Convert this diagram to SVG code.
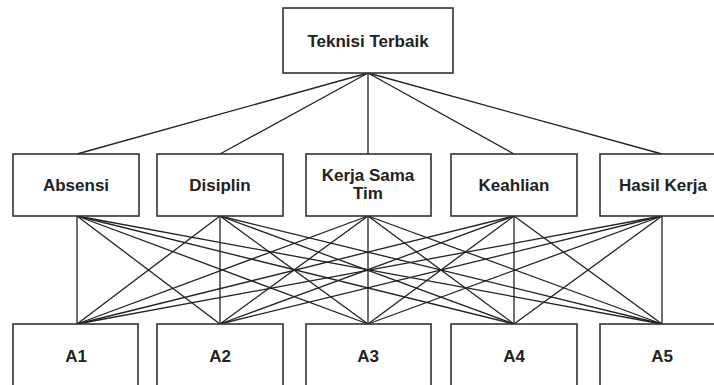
<svg xmlns="http://www.w3.org/2000/svg" width="714" height="385" viewBox="0 0 714 385">
<style>
.box{fill:#fff;stroke:#333;stroke-width:1.6}
.t{font-family:"Liberation Sans",Arial,sans-serif;font-weight:bold;font-size:17px;fill:#222;text-anchor:middle}
.c line{stroke:#222;stroke-width:1.3}
</style>
<rect width="714" height="385" fill="#fff"/>
<g class="c" id="connectors">
<line x1="368" y1="73" x2="77" y2="154"/>
<line x1="368" y1="73" x2="220" y2="154"/>
<line x1="368" y1="73" x2="368" y2="154"/>
<line x1="368" y1="73" x2="514" y2="154"/>
<line x1="368" y1="73" x2="662" y2="154"/>
<line x1="77" y1="216" x2="77" y2="324"/><line x1="77" y1="216" x2="220" y2="324"/><line x1="77" y1="216" x2="368" y2="324"/><line x1="77" y1="216" x2="514" y2="324"/><line x1="77" y1="216" x2="662" y2="324"/>
<line x1="220" y1="216" x2="77" y2="324"/><line x1="220" y1="216" x2="220" y2="324"/><line x1="220" y1="216" x2="368" y2="324"/><line x1="220" y1="216" x2="514" y2="324"/><line x1="220" y1="216" x2="662" y2="324"/>
<line x1="368" y1="216" x2="77" y2="324"/><line x1="368" y1="216" x2="220" y2="324"/><line x1="368" y1="216" x2="368" y2="324"/><line x1="368" y1="216" x2="514" y2="324"/><line x1="368" y1="216" x2="662" y2="324"/>
<line x1="514" y1="216" x2="77" y2="324"/><line x1="514" y1="216" x2="220" y2="324"/><line x1="514" y1="216" x2="368" y2="324"/><line x1="514" y1="216" x2="514" y2="324"/><line x1="514" y1="216" x2="662" y2="324"/>
<line x1="662" y1="216" x2="77" y2="324"/><line x1="662" y1="216" x2="220" y2="324"/><line x1="662" y1="216" x2="368" y2="324"/><line x1="662" y1="216" x2="514" y2="324"/><line x1="662" y1="216" x2="662" y2="324"/>
</g>
<g id="teknisi-terbaik"><rect class="box" x="283" y="8" width="170" height="65"/><text class="t" x="368" y="47">Teknisi Terbaik</text></g>
<g id="absensi"><rect class="box" x="13" y="154" width="126" height="62"/><text class="t" x="76" y="191">Absensi</text></g>
<g id="disiplin"><rect class="box" x="157" y="154" width="126" height="62"/><text class="t" x="220" y="191">Disiplin</text></g>
<g id="kerja-sama-tim"><rect class="box" x="306" y="154" width="125" height="62"/><text class="t" x="368" y="181">Kerja Sama</text><text class="t" x="368" y="199">Tim</text></g>
<g id="keahlian"><rect class="box" x="451" y="154" width="126" height="62"/><text class="t" x="514" y="191">Keahlian</text></g>
<g id="hasil-kerja"><rect class="box" x="600" y="154" width="126" height="62"/><text class="t" x="663" y="191">Hasil Kerja</text></g>
<g id="a1"><rect class="box" x="13" y="324" width="125" height="64"/><text class="t" x="76" y="362">A1</text></g>
<g id="a2"><rect class="box" x="157" y="324" width="126" height="64"/><text class="t" x="220" y="362">A2</text></g>
<g id="a3"><rect class="box" x="306" y="324" width="125" height="64"/><text class="t" x="368" y="362">A3</text></g>
<g id="a4"><rect class="box" x="451" y="324" width="126" height="64"/><text class="t" x="514" y="362">A4</text></g>
<g id="a5"><rect class="box" x="600" y="324" width="126" height="64"/><text class="t" x="662" y="362">A5</text></g>
</svg>
